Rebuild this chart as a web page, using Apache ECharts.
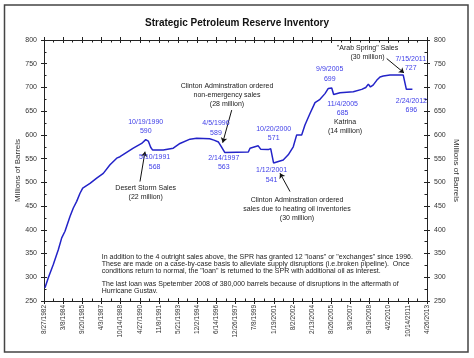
<!DOCTYPE html>
<html><head><meta charset="utf-8">
<script src="https://cdn.jsdelivr.net/npm/echarts/dist/echarts.min.js"></script>
<style>html,body{margin:0;padding:0;background:#fff}#c{width:474px;height:358px}</style>
</head><body><div id="c"></div>
<script>
// ---------- data ----------
const tickLabels = ['8/27/1982','3/8/1984','9/20/1985','4/3/1987','10/14/1988','4/27/1990','11/8/1991','5/21/1993','12/2/1994','6/14/1996','12/26/1997','7/8/1999','1/19/2001','8/2/2002','2/13/2004','8/26/2005','3/9/2007','9/19/2008','4/2/2010','10/14/2011','4/26/2013'];

const dates = ['1982-09-25','1982-12-31','1983-05-26','1983-10-19','1984-01-27','1984-05-02','1984-09-25','1984-12-31','1985-04-09','1985-07-15','1985-10-02','1986-05-03','1986-11-15','1987-05-27','1987-12-09','1988-06-22','1988-09-26','1989-10-20','1990-06-22','1990-10-19','1991-01-02','1991-03-12','1991-05-10','1992-03-15','1993-01-01','1993-07-16','1994-05-05','1994-11-16','1995-12-01','1996-04-05','1996-08-15','1996-11-01','1997-02-14','1999-01-05','1999-02-24','1999-07-16','1999-10-22','1999-12-31','2000-08-11','2000-10-20','2001-01-12','2001-10-22','2002-03-17','2002-08-11','2002-11-19','2003-04-14','2003-07-19','2003-12-13','2004-05-08','2004-10-01','2005-02-24','2005-06-01','2005-09-09','2005-11-04','2006-05-09','2007-06-02','2008-02-03','2008-06-01','2008-08-15','2008-10-15','2009-01-01','2009-04-16','2009-07-22','2009-10-26','2010-05-10','2011-06-01','2011-07-15','2011-09-01','2012-02-24','2012-03-10'];
const values = [278,299,327,358,383,397,428,446,460,477,488,498,509,519,537,551,554,572,582,590,587,574,568,568,572,582,591,593,592,589,585,576,563,564,572,575,577,570,569,571,541,547,558,575,600,600,621,645,668,675,687,698,699,685,689,691,696,700,707,701,705,715,722,724,726,726,727,696,696,696];

// highlighted (date, value) callouts
const calloutDates = ['1990-10-19','1991-05-10','1996-04-05','1997-02-14','2000-10-20','2001-01-12','2005-09-09','2005-11-04','2011-07-15','2012-02-24'];
const calloutValues = [590,568,589,563,571,541,699,685,727,696];

const noteTexts = [
  'Clinton Adminstration ordered\nnon-emergency sales\n(28 million)',
  'Desert Storm Sales\n(22 million)',
  'Katrina\n(14 million)',
  'Clinton Adminstration ordered\nsales due to heating oil inventories\n(30 million)',
  '"Arab Spring" Sales\n(30 million)'
];
const footText = 'In addition to the 4 outright sales above, the SPR has granted 12 "loans" or "exchanges" since 1996.\nThese are made on a case-by-case basis to alleviate supply disruptions (i.e.broken pipeline).  Once\nconditions return to normal, the "loan" is returned to the SPR with additional oil as interest.\n\nThe last loan was Spetember 2008 of 380,000 barrels because of disruptions in the aftermath of\nHurricane Gustav.';

// ---------- layout (annotation anchors in axis units: [day offset, barrels]) ----------
const calloutOffsets = [[0,-13],[2,12],[2,-12],[-1,10],[3,-15],[-2,12],[-2,-14],[9,14],[6,-11],[-1,16]];
const noteAnchors = [[5351,684.5],[2974,479],[8802,618],[7398,443.9],[9460,774.2]];
const footAnchor = [1690,348.7];
const arrows = [[[2807,501.7],[2954,564.7]],[[5489,652.3],[5226,583.6]],[[7194,480.7],[6901,519.3]],[[10022,760.9],[10528,730.7]]];

const FONT = 'Liberation Sans, Arial, sans-serif';
const ORIGIN = Date.UTC(1982,7,27);
function day(s){const p=s.split('-').map(Number);return (Date.UTC(p[0],p[1]-1,p[2])-ORIGIN)/86400000;}
function fmtDate(s){const p=s.split('-').map(Number);return p[1]+'/'+p[2]+'/'+p[0];}

const AX = '#222';
function xAx(pos, inside, labels){
  return {type:'value', position:pos, min:0, max:11200, interval:560,
    axisLine:{show:true,onZero:false,lineStyle:{color:AX,width:1}},
    axisTick:{show:true,inside:inside,length:3,lineStyle:{color:AX,width:1}},
    minorTick:{show:inside,splitNumber:2,length:2.5,lineStyle:{color:AX,width:1}},
    splitLine:{show:false}, minorSplitLine:{show:false},
    axisLabel: labels ? {show:true,rotate:90,margin:4,fontSize:6.5,color:'#333',fontFamily:FONT,
      formatter:function(v){return tickLabels[Math.round(v/560)]||'';}} : {show:false}
  };
}
function yAx(pos, inside, labels){
  const a = {type:'value', position:pos, min:250, max:800, interval:50,
    axisLine:{show:true,onZero:false,lineStyle:{color:AX,width:1}},
    axisTick:{show:true,inside:inside,length:3,lineStyle:{color:AX,width:1}},
    minorTick:{show:inside,splitNumber:2,length:2.5,lineStyle:{color:AX,width:1}},
    splitLine:{show:false}, minorSplitLine:{show:false},
    axisLabel: labels ? {show:true,margin:7,fontSize:7,color:'#333',fontFamily:FONT} : {show:false}
  };
  if(labels){
    a.name='Millions of Barrels'; a.nameLocation='middle';
    a.nameMoveOverlap=false;
    a.nameGap = pos==='left'?22:25; a.nameRotate = pos==='left'?90:-90;
    a.nameTextStyle={fontSize:8,color:'#333',fontFamily:FONT};
  }
  return a;
}

const mpData = [];
calloutDates.forEach(function(d,i){
  mpData.push({coord:[day(d),calloutValues[i]], label:{show:true,position:'inside',
    formatter:fmtDate(d)+'\n'+calloutValues[i], offset:calloutOffsets[i],
    color:'#4040e8',fontSize:7,lineHeight:9.5,fontFamily:FONT,align:'center',verticalAlign:'middle'}});
});
noteTexts.forEach(function(t,i){
  mpData.push({coord:noteAnchors[i], label:{show:true,position:'inside',formatter:t,
    color:'#222',fontSize:7,lineHeight:9,fontFamily:FONT,align:'center',verticalAlign:'middle'}});
});
mpData.push({coord:footAnchor, label:{show:true,position:'inside',formatter:footText,
  color:'#222',fontSize:7,lineHeight:6.7,fontFamily:FONT,align:'left',verticalAlign:'top'}});

const chart = echarts.init(document.getElementById('c'));
chart.setOption({
  animation:false,
  backgroundColor:'#fff',
  title:{text:'Strategic Petroleum Reserve Inventory',left:'center',top:13,
    textStyle:{fontSize:10,fontWeight:'bold',color:'#111',fontFamily:FONT}},
  grid:{left:44,right:47,top:40,bottom:57,containLabel:false},
  xAxis:[xAx('bottom',false,true),xAx('bottom',true,false),xAx('top',false,false),xAx('top',true,false)],
  yAxis:[yAx('left',false,true),yAx('left',true,false),yAx('right',false,true),yAx('right',true,false)],
  graphic:[{type:'rect',shape:{x:4.5,y:5,width:463.5,height:347},
    style:{fill:'none',stroke:'#444',lineWidth:1.5},silent:true}],
  series:[{
    type:'line', xAxisIndex:0, yAxisIndex:0,
    data: dates.map(function(d,i){return [day(d),values[i]];}),
    showSymbol:false, symbol:'none', silent:true,
    lineStyle:{color:'#2323c8',width:1.5},
    markPoint:{symbol:'rect',symbolSize:0,silent:true,data:mpData},
    markLine:{silent:true,symbol:['none','arrow'],symbolSize:5,
      lineStyle:{color:'#111',width:1,type:'solid'},label:{show:false},
      data: arrows.map(function(a){return [{coord:a[0]},{coord:a[1]}];})}
  }]
});
</script></body></html>
